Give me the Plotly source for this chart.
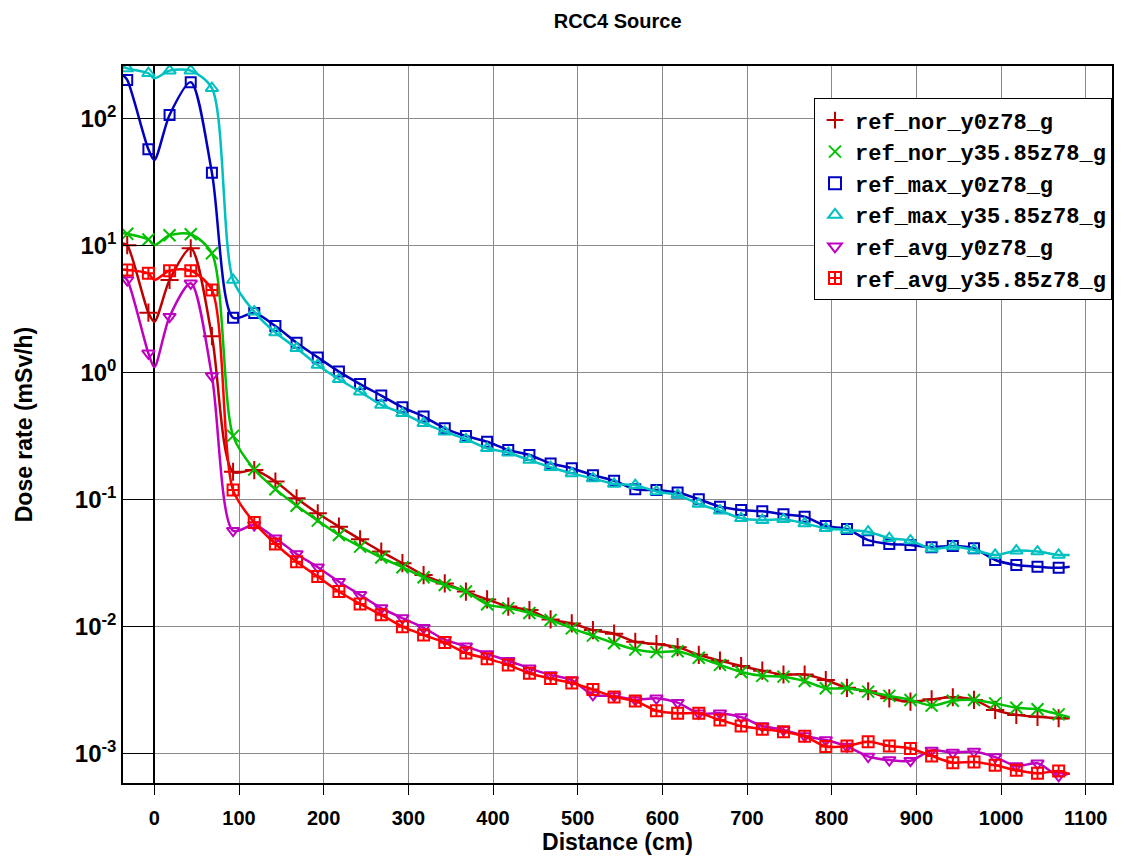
import plotly.graph_objects as go

# ---------------- data ----------------
X_LINE = [-37, -32, -7, 0, 18, 43, 68, 93, 118, 143, 168, 193, 218, 243, 268, 293, 318,
          343, 368, 393, 418, 443, 468, 493, 518, 543, 568, 593, 618, 643, 668, 693, 718,
          743, 768, 793, 818, 843, 868, 893, 918, 943, 968, 993, 1018, 1043, 1068, 1081]

X_MARK = [-32, -7, 18, 43, 68, 93, 118, 143, 168, 193, 218, 243, 268, 293, 318, 343, 368,
          393, 418, 443, 468, 493, 518, 543, 568, 593, 618, 643, 668, 693, 718, 743, 768,
          793, 818, 843, 868, 893, 918, 943, 968, 993, 1018, 1043, 1068]

ref_nor_y0z78_g = [10.4, 10.1, 2.97, 2.52, 5.37, 9.55, 1.94, 0.166, 0.171, 0.139, 0.1025,
                   0.0781, 0.0613, 0.0488, 0.039, 0.0316, 0.0255, 0.0219, 0.0189, 0.0164,
                   0.0144, 0.0135, 0.0114, 0.0106, 0.0094, 0.0088, 0.0076, 0.0073, 0.0069,
                   0.0060, 0.0054, 0.0049, 0.0045, 0.0042, 0.0042, 0.0038, 0.0033, 0.0031,
                   0.00273, 0.00257, 0.00268, 0.00278, 0.00265, 0.00221, 0.00202, 0.00195,
                   0.0019, 0.0019]

ref_nor_y35_85z78_g = [12.6, 12.4, 11.2, 10.1, 12.1, 12.3, 8.71, 0.318, 0.173, 0.121,
                       0.0897, 0.0684, 0.0527, 0.0427, 0.035, 0.0294, 0.0245, 0.0213,
                       0.0189, 0.015, 0.014, 0.0128, 0.0113, 0.0097, 0.0085, 0.0074,
                       0.0066, 0.0063, 0.0064, 0.0057, 0.0050, 0.0044, 0.0041, 0.00404,
                       0.00373, 0.00327, 0.00327, 0.00308, 0.00285, 0.00265, 0.00239,
                       0.00261, 0.00265, 0.00249, 0.0023, 0.00224, 0.00204, 0.00194]

ref_max_y0z78_g = [220, 202, 57.4, 47.3, 107, 194, 37.6, 2.71, 2.95, 2.33, 1.72, 1.32, 1.02,
                   0.814, 0.66, 0.534, 0.451, 0.365, 0.317, 0.286, 0.246, 0.225, 0.193,
                   0.177, 0.156, 0.141, 0.121, 0.119, 0.114, 0.101, 0.088, 0.083, 0.081,
                   0.0767, 0.0735, 0.062, 0.0588, 0.048, 0.0448, 0.044, 0.0422, 0.0432,
                   0.0414, 0.0335, 0.0306, 0.0297, 0.0291, 0.0297]

ref_max_y35_85z78_g = [257, 249, 228, 208, 239, 239, 174, 5.37, 3.02, 2.07, 1.56, 1.15,
                       0.887, 0.708, 0.557, 0.479, 0.400, 0.343, 0.299, 0.254, 0.234,
                       0.205, 0.180, 0.161, 0.147, 0.133, 0.130, 0.116, 0.109, 0.0925,
                       0.0819, 0.0713, 0.069, 0.070, 0.065, 0.0595, 0.0577, 0.056, 0.0497,
                       0.0476, 0.041, 0.0427, 0.0402, 0.0367, 0.0397, 0.039, 0.0367, 0.0367]

ref_avg_y0z78_g = [5.7, 5.37, 1.42, 1.11, 2.76, 5.06, 0.942, 0.057, 0.0632, 0.0497, 0.0374,
                   0.0294, 0.0226, 0.0178, 0.0140, 0.0117, 0.0098, 0.0079, 0.0070, 0.0061,
                   0.0054, 0.0047, 0.00417, 0.0038, 0.0029, 0.00285, 0.00265, 0.00273,
                   0.00252, 0.00208, 0.00208, 0.00194, 0.00165, 0.00154, 0.00138, 0.00128,
                   0.00114, 0.00095, 0.00089, 0.00088, 0.00106, 0.00102, 0.00104, 0.00094,
                   0.0008, 0.00084, 0.00067, 0.0007]

ref_avg_y35_85z78_g = [6.5, 6.44, 6.06, 5.37, 6.36, 6.36, 4.48, 0.119, 0.066, 0.0448,
                       0.0325, 0.0248, 0.0189, 0.0151, 0.0124, 0.0100, 0.0086, 0.0075,
                       0.0062, 0.0056, 0.0050, 0.0043, 0.0039, 0.0036, 0.0032, 0.0028,
                       0.0026, 0.00218, 0.00208, 0.00208, 0.00184, 0.00165, 0.00156,
                       0.00149, 0.00137, 0.00114, 0.00115, 0.00124, 0.00115, 0.0011,
                       0.00096, 0.00085, 0.00086, 0.00081, 0.00074, 0.0007, 0.00073, 0.00069]

SERIES = [
    ("ref_nor_y0z78_g", ref_nor_y0z78_g, "#c00000", "cross-thin-open", 13),
    ("ref_nor_y35.85z78_g", ref_nor_y35_85z78_g, "#00c000", "x-thin-open", 12),
    ("ref_max_y0z78_g", ref_max_y0z78_g, "#0000c0", "square-open", 10),
    ("ref_max_y35.85z78_g", ref_max_y35_85z78_g, "#00c0c0", "triangle-up-open", 11),
    ("ref_avg_y0z78_g", ref_avg_y0z78_g, "#c000c0", "triangle-down-open", 11),
    ("ref_avg_y35.85z78_g", ref_avg_y35_85z78_g, "#ff0000", "square-cross-open", 11),
]

Y_TICKS = [1e-3, 1e-2, 1e-1, 1e0, 1e1, 1e2]
Y_TICKTEXT = ["<b>10<sup>-3</sup></b>", "<b>10<sup>-2</sup></b>", "<b>10<sup>-1</sup></b>",
              "<b>10<sup>0</sup></b>", "<b>10<sup>1</sup></b>", "<b>10<sup>2</sup></b>"]
X_TICKS = [0, 100, 200, 300, 400, 500, 600, 700, 800, 900, 1000, 1100]
X_TICKTEXT = ["<b>%d</b>" % v for v in X_TICKS]

SANS = "Liberation Sans, Arial, sans-serif"
MONO = "Liberation Mono, Courier New, monospace"

fig = go.Figure()
for name, vals, color, sym, size in SERIES:
    fig.add_trace(go.Scatter(
        x=X_LINE, y=vals, mode="lines", showlegend=False, hoverinfo="skip",
        line=dict(color=color, width=2.5, shape="spline", smoothing=0.8)))
    lookup = dict(zip(X_LINE, vals))
    fig.add_trace(go.Scatter(
        x=X_MARK, y=[lookup[x] for x in X_MARK], mode="markers", name="<b>%s</b>" % name,
        marker=dict(symbol=sym, size=size, color=color, line=dict(color=color, width=2))))

fig.update_layout(
    width=1126, height=863,
    margin=dict(l=123, r=14, t=66, b=80),
    paper_bgcolor="white", plot_bgcolor="white",
    title=dict(text="<b>RCC4 Source</b>", x=0.5485, xanchor="center", y=1 - 21 / 863,
               yanchor="middle", font=dict(family=SANS, size=20, color="black")),
    legend=dict(x=1.0, xanchor="right", y=0.955, yanchor="top", bgcolor="white",
                bordercolor="black", borderwidth=1,
                font=dict(family=MONO, size=22, color="black"),
                itemsizing="constant"),
    font=dict(family=SANS, color="black"),
)

fig.update_xaxes(
    range=[-37, 1131], tickvals=X_TICKS, ticktext=X_TICKTEXT, ticks="outside", ticklen=10,
    tickwidth=1, tickcolor="black", showgrid=True, gridcolor="#8a8a8a", gridwidth=1,
    zeroline=True, zerolinecolor="black", zerolinewidth=1.5,
    showline=True, linecolor="black", linewidth=1.5, mirror=True,
    ticklabelstandoff=6,
    tickfont=dict(family=SANS, size=20, color="black"),
    title=dict(text="<b>Distance (cm)</b>", standoff=6,
               font=dict(family=SANS, size=23, color="black")))

fig.update_yaxes(
    type="log", range=[-3.231, 2.415], tickvals=Y_TICKS, ticktext=Y_TICKTEXT,
    ticks="inside", ticklen=31, tickwidth=1, tickcolor="black",
    showgrid=True, gridcolor="#8a8a8a", gridwidth=1, zeroline=False,
    showline=True, linecolor="black", linewidth=1.5, mirror=True,
    tickfont=dict(family=SANS, size=24, color="black"),
    title=dict(text="<b>Dose rate (mSv/h)</b>", standoff=36,
               font=dict(family=SANS, size=23, color="black")))

fig.write_html("out.html")
